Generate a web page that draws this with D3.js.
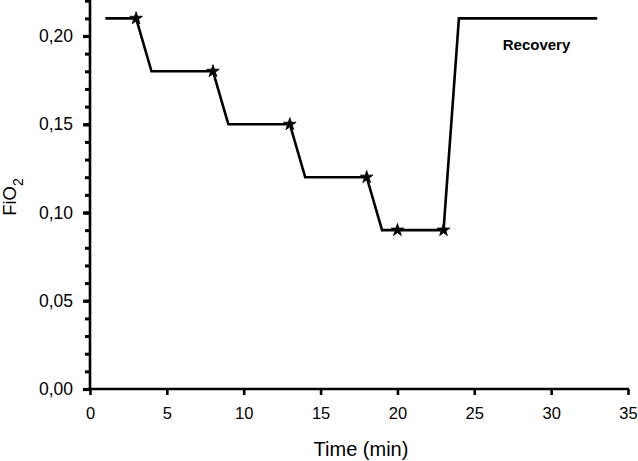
<!DOCTYPE html>
<html>
<head>
<meta charset="utf-8">
<script src="https://cdn.jsdelivr.net/npm/d3@7"></script>
<style>
body{margin:0;background:#fff;}
svg{display:block;font-family:"Liberation Sans",Arial,sans-serif;}
</style>
</head>
<body>
<svg id="chart" width="638" height="461"></svg>
<script>
const time = [1, 3, 4, 8, 9, 13, 14, 18, 19, 20, 23, 24, 33];
const fio2 = [0.21, 0.21, 0.18, 0.18, 0.15, 0.15, 0.12, 0.12, 0.09, 0.09, 0.09, 0.21, 0.21];
const starTimes = [3, 8, 13, 18, 20, 23];
const starValues = [0.21, 0.18, 0.15, 0.12, 0.09, 0.09];
const xTicks = [0, 5, 10, 15, 20, 25, 30, 35];
const yMajorTicks = [0, 0.05, 0.10, 0.15, 0.20];
const yMinorTicks = d3.range(0, 23).map(i => i / 100);
const annotation = "Recovery";
const annotationTime = 26.85;
const annotationValue = 0.192;

const svg = d3.select("#chart");
const x = d3.scaleLinear().domain([0, 35]).range([90, 628]);
const y = d3.scaleLinear().domain([0, 0.22]).range([389, 0.7]);
const comma = d3.formatLocale({decimal: ",", thousands: ".", grouping: [3], currency: ["", ""]});
const fmt = comma.format(".2f");

// Y axis minor ticks
const gyMinor = svg.append("g").attr("transform", `translate(${x(0)},0)`)
  .call(d3.axisLeft(y).tickValues(yMinorTicks).tickSize(5).tickFormat(""));
gyMinor.selectAll(".tick line").attr("stroke", "#000").attr("stroke-width", 3);
gyMinor.select(".domain").remove();

// Y axis major
const gy = svg.append("g").attr("transform", `translate(${x(0)},0)`)
  .call(d3.axisLeft(y).tickValues(yMajorTicks).tickSize(7).tickPadding(10).tickFormat(fmt));
gy.select(".domain").attr("d", `M0,${y(0)+1}V${y(0.22)-1}`).attr("stroke", "#000").attr("stroke-width", 2.6);
gy.selectAll(".tick line").attr("stroke", "#000").attr("stroke-width", 3.2);
gy.selectAll(".tick text").attr("font-size", 17.5).attr("fill", "#000")
  .attr("font-family", "Liberation Sans, Arial, sans-serif");

// X axis
const gx = svg.append("g").attr("transform", `translate(0,${y(0)})`)
  .call(d3.axisBottom(x).tickValues(xTicks).tickSize(6).tickPadding(12).tickFormat(d3.format("d")));
gx.select(".domain").attr("d", `M${x(0)-1},0H${x(35)+1}`).attr("stroke", "#000").attr("stroke-width", 2.6);
gx.selectAll(".tick line").attr("stroke", "#000").attr("stroke-width", 2.6);
gx.selectAll(".tick text").attr("font-size", 16.5).attr("fill", "#000")
  .attr("font-family", "Liberation Sans, Arial, sans-serif");

// Axis titles
svg.append("text").attr("x", (x(0) + x(35)) / 2 + 2).attr("y", 456)
  .attr("text-anchor", "middle").attr("font-size", 20).attr("fill", "#000").text("Time (min)");

const yt = svg.append("text")
  .attr("transform", `translate(16,197) rotate(-90)`)
  .attr("text-anchor", "middle").attr("font-size", 18.5).attr("fill", "#000");
yt.append("tspan").text("FiO");
yt.append("tspan").attr("font-size", 14).attr("dy", 7).text("2");

// Line
const pts = time.map((t, i) => [t, fio2[i]]);
svg.append("path").datum(pts)
  .attr("fill", "none").attr("stroke", "#000").attr("stroke-width", 2.6)
  .attr("stroke-linejoin", "miter")
  .attr("d", d3.line().x(d => x(d[0])).y(d => y(d[1])));

// Stars
const star = d3.symbol().type(d3.symbolStar).size(50);
svg.append("g").selectAll("path").data(starTimes.map((t, i) => [t, starValues[i]]))
  .join("path")
  .attr("transform", d => `translate(${x(d[0])},${y(d[1])})`)
  .attr("d", star).attr("fill", "#000").attr("stroke", "#000").attr("stroke-width", 0.8);

// Annotation
svg.append("text").attr("x", x(annotationTime)).attr("y", y(annotationValue))
  .attr("font-size", 15).attr("font-weight", "bold").attr("fill", "#000").text(annotation);
</script>
</body>
</html>
